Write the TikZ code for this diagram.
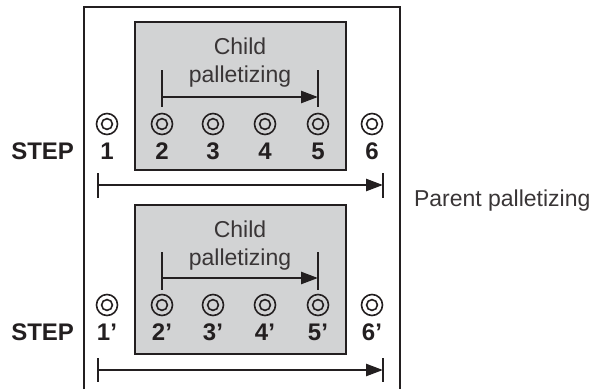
\documentclass[tikz,border=0pt]{standalone}
\usepackage{fontspec}
\setmainfont{Liberation Sans}
\usetikzlibrary{arrows.meta, positioning}
\definecolor{boxgray}{RGB}{210,211,212}
\definecolor{ink}{RGB}{35,31,32}

\begin{document}
\begin{tikzpicture}[x=1pt, y=-1pt, line width=2pt,
    lbl/.style={font=\fontsize{23}{26}\selectfont, text=ink!90, inner sep=0pt, anchor=base},
    num/.style={font=\fontsize{24}{27}\selectfont\bfseries, text=ink, inner sep=0pt, anchor=base},
    hole/.style={circle, draw=ink, line width=1.6pt, minimum size=21pt, inner sep=0pt,
        path picture={\draw[ink, line width=1.6pt] (path picture bounding box.center) circle (5.4pt);}},
    span/.style={-{Triangle[length=17pt, width=12pt]}, draw=ink, line width=2.5pt},
    tick/.style={draw=ink, line width=2.5pt}]
    \useasboundingbox (0,0) rectangle (612,389);
    % 外框
    \draw[ink, line width=2.7pt] (84,389) -- (84,7) -- (400,7) -- (400,389);
    % 第一段
    \draw[ink, fill=boxgray, line width=2.7pt] (135,22) rectangle (346,170);
    \node[lbl] (childA) at (240,54) {Child};
    \node[lbl] (palA) at (240,82) {palletizing};
    \coordinate (cAl) at (162,97); \coordinate (cAr) at (318,97);
    \draw[tick] (162,70) -- (162,107); \draw[tick] (318,70) -- (318,107);
    \draw[span] (cAl) -- (cAr);
    \foreach \n/\x in {1/107, 2/162, 3/213, 4/265, 5/318, 6/372} {
        \node[hole] (hA\n) at (\x,124) {};
        \node[num] (nA\n) at (\x,159) {\n};
    }
    \node[num, anchor=base east] (stepA) at (75,159) {STEP};
    \coordinate (pAl) at (98,185); \coordinate (pAr) at (383,185);
    \draw[tick] (98,173) -- (98,198); \draw[tick] (383,173) -- (383,198);
    \draw[span] (pAl) -- (pAr);
    \node[lbl, anchor=base west] (parent) at (413,206) {Parent palletizing};
    % 第二段
    \draw[ink, fill=boxgray, line width=2.7pt] (135,205) rectangle (346,354);
    \node[lbl] (childB) at (240,237) {Child};
    \node[lbl] (palB) at (240,265) {palletizing};
    \coordinate (cBl) at (162,278); \coordinate (cBr) at (318,278);
    \draw[tick] (162,252) -- (162,290); \draw[tick] (318,252) -- (318,290);
    \draw[span] (cBl) -- (cBr);
    \foreach \n/\x in {1/107, 2/162, 3/213, 4/265, 5/318, 6/372} {
        \node[hole] (hB\n) at (\x,305) {};
        \node[num] (nB\n) at (\x,340) {\n’};
    }
    \node[num, anchor=base east] (stepB) at (75,340) {STEP};
    \coordinate (pBl) at (98,370); \coordinate (pBr) at (383,370);
    \draw[tick] (98,358) -- (98,382); \draw[tick] (383,358) -- (383,382);
    \draw[span] (pBl) -- (pBr);
\end{tikzpicture}
\end{document}
